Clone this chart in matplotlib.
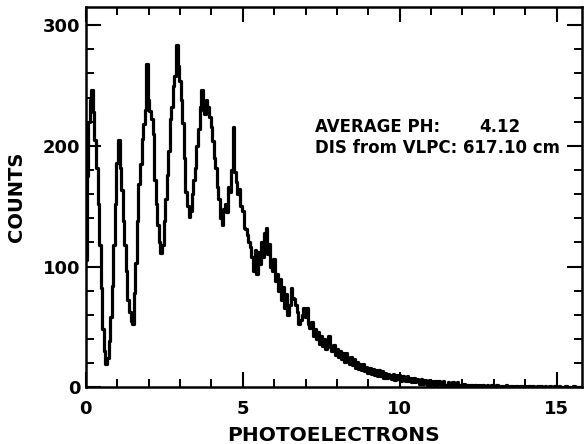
import matplotlib.pyplot as plt
import numpy as np
from matplotlib.ticker import MultipleLocator


# Data: counts per 0.05 photoelectron bin
bin_width = 0.05
counts = [
    # 0.00 - 0.95
    105, 175, 220, 238, 246, 228, 205, 182, 152, 118, 82, 48, 30, 19, 24, 38, 58, 84, 118, 152,
    # 1.00 - 1.95
    186, 205, 182, 163, 138, 118, 96, 72, 62, 55, 52, 78, 103, 138, 168, 185, 206, 218, 230, 268,
    # 2.00 - 2.95
    238, 229, 222, 210, 172, 152, 134, 120, 111, 118, 138, 156, 176, 196, 222, 232, 250, 258, 284, 266,
    # 3.00 - 3.95
    254, 238, 219, 190, 162, 150, 141, 146, 160, 172, 182, 200, 214, 232, 246, 230, 226, 238, 232, 224,
    # 4.00 - 4.95
    216, 204, 190, 182, 166, 156, 140, 134, 148, 152, 145, 166, 162, 180, 216, 178, 170, 160, 164, 150,
    # 5.00 - 5.95
    146, 132, 131, 126, 120, 116, 108, 96, 114, 94, 112, 102, 120, 108, 128, 132, 110, 119, 100, 96,
    # 6.00 - 6.95
    106, 88, 94, 80, 90, 72, 83, 66, 77, 60, 68, 82, 74, 73, 68, 62, 52, 56, 60, 66,
    # 7.00 - 7.95
    58, 66, 52, 49, 54, 42, 48, 40, 46, 36, 42, 34, 40, 32, 38, 42, 33, 30, 35, 27,
    # 8.00 - 8.95
    32, 25, 30, 23, 28, 21, 28, 22, 19, 25, 18, 23, 16, 21, 15, 19, 14, 19, 13, 17,
    # 9.00 - 9.95
    12, 16, 11, 15, 10, 14, 9, 14, 9, 13, 8, 12, 8, 11, 10, 7, 11, 6, 10, 7,
    # 10.00 - 10.95
    10, 5, 9, 7, 5, 9, 5, 8, 4, 8, 4, 7, 6, 3, 7, 3, 6, 5, 2, 6,
    # 11.00 - 11.95
    4, 5, 2, 5, 2, 5, 3, 2, 5, 2, 1, 4, 3, 1, 4, 2, 1, 4, 2, 1,
    # 12.00 - 12.95
    2, 3, 2, 2, 1, 2, 2, 1, 2, 2, 1, 2, 1, 2, 1, 1, 2, 1, 1, 2,
    # 13.00 - 13.95
    1, 1, 2, 1, 1, 0, 1, 1, 2, 1, 0, 1, 1, 0, 1, 1, 0, 1, 1, 0,
    # 14.00 - 14.95
    1, 0, 1, 1, 0, 1, 0, 0, 1, 0, 1, 0, 0, 1, 0, 0, 1, 0, 0, 1,
    # 15.00 - 15.75
    0, 0, 1, 0, 0, 0, 1, 0, 0, 0, 0, 1, 0, 0, 0, 0,
]
pe = np.arange(len(counts)) * bin_width

avg_ph = "4.12"
distance = "617.10 cm"


# Style
ink = "black"
font = "DejaVu Sans"

fig = plt.figure(figsize=(5.84, 4.44), dpi=100, facecolor="white")
ax = fig.add_axes([0.147, 0.128, 0.849, 0.856])

ax.plot(pe, counts, drawstyle="steps-mid", color=ink, lw=2.3)

ax.set_xlim(0, 15.8)
ax.set_ylim(0, 315)

ax.xaxis.set_major_locator(MultipleLocator(5))
ax.xaxis.set_minor_locator(MultipleLocator(1))
ax.yaxis.set_major_locator(MultipleLocator(100))
ax.yaxis.set_minor_locator(MultipleLocator(20))

ax.tick_params(which="both", direction="in", top=True, right=True, colors=ink)
ax.tick_params(which="major", length=11, width=1.5, labelsize=13)
ax.tick_params(axis="x", which="major", pad=9)
ax.tick_params(axis="y", which="major", pad=4)
ax.tick_params(which="minor", length=6, width=1.4)
for lab in ax.get_xticklabels() + ax.get_yticklabels():
    lab.set_fontweight("bold")
    lab.set_family(font)

for s in ax.spines.values():
    s.set_linewidth(1.8)
    s.set_color(ink)

ax.set_xlabel("PHOTOELECTRONS", fontsize=14.5, fontweight="bold", family=font, labelpad=6)
ax.set_ylabel("COUNTS", fontsize=14, fontweight="bold", family=font, labelpad=12)

# Run info
txt = dict(transform=ax.transAxes, fontsize=12, fontweight="bold", family=font, va="center")
ax.text(0.462, 0.684, "AVERAGE PH:", **txt)
ax.text(0.794, 0.684, avg_ph, **txt)
ax.text(0.462, 0.629, "DIS from VLPC:", **txt)
ax.text(0.760, 0.629, distance, **txt)

fig.savefig("out.png", dpi=100)
